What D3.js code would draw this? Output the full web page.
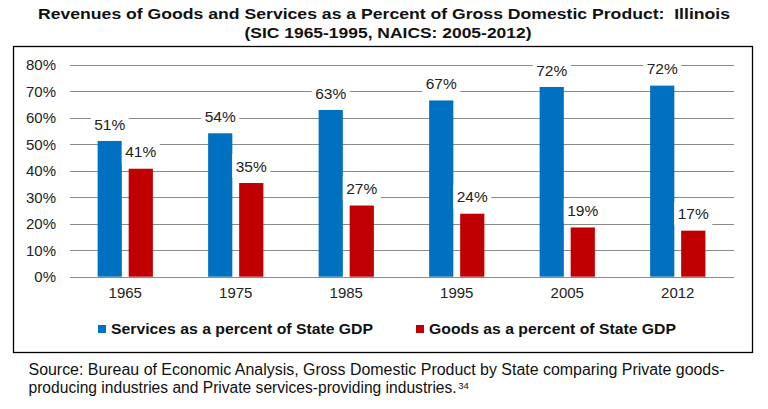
<!DOCTYPE html>
<html>
<head>
<meta charset="utf-8">
<script src="https://cdn.jsdelivr.net/npm/d3@7"></script>
<style>
  body { margin: 0; background: #fff; }
  svg text { font-family: "Liberation Sans", Arial, sans-serif; white-space: pre; }
</style>
</head>
<body>
<div id="chart"></div>
<script>
// data
var years = ["1965", "1975", "1985", "1995", "2005", "2012"];
var services = [51.3, 54.2, 63.0, 66.6, 71.7, 72.2];
var goods = [40.8, 35.4, 26.9, 23.8, 18.6, 17.4];
var seriesNames = ["Services as a percent of State GDP", "Goods as a percent of State GDP"];
var yTicks = [0, 10, 20, 30, 40, 50, 60, 70, 80];

var W = 768, H = 409;
var colors = ["#0070C0", "#C00000"];

var svg = d3.select("#chart")
  .append("svg")
    .attr("width", W)
    .attr("height", H);

svg.append("rect").attr("width", W).attr("height", H).attr("fill", "#fff");

// title
svg.append("text")
  .attr("x", 384).attr("y", 19)
  .attr("text-anchor", "middle")
  .attr("font-size", 15.5).attr("font-weight", "bold").attr("fill", "#111")
  .attr("textLength", 692).attr("lengthAdjust", "spacingAndGlyphs")
  .text("Revenues of Goods and Services as a Percent of Gross Domestic Product:  Illinois");
svg.append("text")
  .attr("x", 388).attr("y", 38)
  .attr("text-anchor", "middle")
  .attr("font-size", 15.5).attr("font-weight", "bold").attr("fill", "#111")
  .attr("textLength", 287).attr("lengthAdjust", "spacingAndGlyphs")
  .text("(SIC 1965-1995, NAICS: 2005-2012)");

// chart frame
svg.append("rect")
  .attr("x", 13.5).attr("y", 46.5)
  .attr("width", 739).attr("height", 306)
  .attr("fill", "none").attr("stroke", "#000").attr("stroke-width", 1.3);

// scales
var x0 = d3.scaleBand()
  .domain(years)
  .range([70, 733])
  .paddingInner(0.5)
  .paddingOuter(0.25);

var x1 = d3.scaleBand()
  .domain([0, 1])
  .range([0, x0.bandwidth()])
  .paddingInner(0.22);

var y = d3.scaleLinear()
  .domain([0, 80])
  .range([276.7, 65]);

// gridlines + y labels
var yAxis = svg.append("g")
  .attr("transform", "translate(70,0)")
  .call(d3.axisLeft(y).tickValues(yTicks).tickSize(0).tickPadding(14).tickFormat(d => d + "%"));
yAxis.select(".domain").remove();
yAxis.selectAll("text").attr("font-size", 15).attr("fill", "#222").attr("font-family", null);

svg.append("g")
  .selectAll("line")
  .data(yTicks)
  .join("line")
    .attr("x1", 70).attr("x2", 734)
    .attr("y1", d => Math.round(y(d)) + 0.5)
    .attr("y2", d => Math.round(y(d)) + 0.5)
    .attr("stroke", "#8a8a8a").attr("stroke-width", 1);

// x labels
var xAxis = svg.append("g")
  .attr("transform", "translate(0,276.7)")
  .call(d3.axisBottom(x0).tickSize(0).tickPadding(11));
xAxis.select(".domain").remove();
xAxis.selectAll("text").attr("font-size", 15).attr("fill", "#222").attr("font-family", null);

// bars
var rows = years.map((yr, i) => ({ year: yr, vals: [services[i], goods[i]] }));

var groups = svg.append("g")
  .selectAll("g")
  .data(rows)
  .join("g")
    .attr("transform", d => `translate(${x0(d.year)},0)`);

groups.selectAll("rect")
  .data(d => d.vals.map((v, k) => ({ k: k, v: v })))
  .join("rect")
    .attr("x", d => x1(d.k))
    .attr("y", d => y(d.v))
    .attr("width", x1.bandwidth())
    .attr("height", d => y(0) - y(d.v))
    .attr("fill", d => colors[d.k]);

// data labels with white boxes
var lab = groups.selectAll("g.lab")
  .data(d => d.vals.map((v, k) => ({ k: k, v: v })))
  .join("g")
    .attr("class", "lab")
    .attr("transform", d => `translate(${x1(d.k) + x1.bandwidth() / 2},${y(d.v) - 17})`);

lab.append("rect")
  .attr("x", -19).attr("y", -12)
  .attr("width", 38).attr("height", 24)
  .attr("fill", "#fff");

lab.append("text")
  .attr("text-anchor", "middle")
  .attr("dy", "0.36em")
  .attr("font-size", 15.5).attr("fill", "#222")
  .text(d => Math.round(d.v) + "%");

// legend
var legX = [98, 416];
var legLen = [262, 247];
var leg = svg.append("g")
  .selectAll("g")
  .data(seriesNames)
  .join("g")
    .attr("transform", (d, i) => `translate(${legX[i]},325)`);

leg.append("rect")
  .attr("width", 8).attr("height", 8)
  .attr("fill", (d, i) => colors[i]);

leg.append("text")
  .attr("x", 13).attr("y", 8.5)
  .attr("font-size", 15.5).attr("font-weight", "bold").attr("fill", "#111")
  .attr("textLength", (d, i) => legLen[i]).attr("lengthAdjust", "spacingAndGlyphs")
  .text(d => d);

// source note
svg.append("text")
  .attr("x", 28.5).attr("y", 375)
  .attr("font-size", 16).attr("fill", "#111")
  .attr("textLength", 696).attr("lengthAdjust", "spacingAndGlyphs")
  .text("Source: Bureau of Economic Analysis, Gross Domestic Product by State comparing Private goods-");
var line2 = svg.append("text")
  .attr("x", 28.5).attr("y", 393)
  .attr("font-size", 15.6).attr("fill", "#111")
  .text("producing industries and Private services-providing industries.");
var endX = 28.5 + line2.node().getComputedTextLength();
svg.append("text")
  .attr("x", endX + 1.5).attr("y", 389)
  .attr("font-size", 9.5).attr("fill", "#111")
  .text("34");
</script>
</body>
</html>
